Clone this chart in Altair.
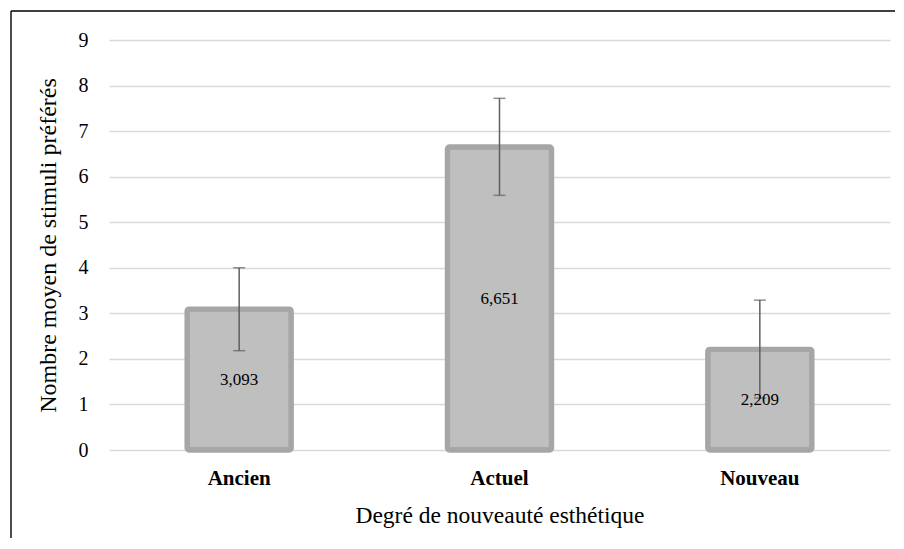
import altair as alt
import pandas as pd

categories = ["Ancien", "Actuel", "Nouveau"]
means = [3.093, 6.651, 2.209]
labels = ["3,093", "6,651", "2,209"]
err_low = [2.18, 5.59, 1.14]
err_high = [4.00, 7.72, 3.29]
y_ticks = list(range(0, 10))

df = pd.DataFrame({
    "cat": categories,
    "mean": means,
    "half": [m / 2 for m in means],
    "label": labels,
    "lo": err_low,
    "hi": err_high,
})

FONT = "Liberation Serif"
W, H = 781, 410

xenc = alt.X("cat:N", sort=categories,
             scale=alt.Scale(paddingInner=0.6, paddingOuter=0.3),
             axis=alt.Axis(title="Degré de nouveauté esthétique", labelAngle=0,
                           labelFontWeight="bold", labelFontSize=21, labelPadding=17,
                           labelColor="black", titleFontSize=23.5, titleFontWeight="normal",
                           titleColor="black", titlePadding=15, domain=False, ticks=False,
                           labelFont=FONT, titleFont=FONT))
yscale = alt.Scale(domain=[0, 9], nice=False)

base = alt.Chart(df)

bars = base.mark_bar(color="#bfbfbf", stroke="#a6a6a6", strokeWidth=5.3,
                     cornerRadius=2, strokeJoin="round").encode(
    x=xenc,
    y=alt.Y("mean:Q", scale=yscale,
            axis=alt.Axis(title="Nombre moyen de stimuli préférés", values=y_ticks,
                          labelFontSize=20, labelColor="black", labelPadding=21,
                          titleFontSize=24, titleFontWeight="normal", titleColor="black",
                          titlePadding=18, domain=False, ticks=False,
                          gridColor="#d9d9d9", gridWidth=1.5,
                          labelFont=FONT, titleFont=FONT)),
)

err = base.mark_rule(color="#5f5f5f", strokeWidth=1.5).encode(
    x=alt.X("cat:N", sort=categories), y=alt.Y("lo:Q", scale=yscale), y2="hi:Q")
cap_lo = base.mark_tick(color="#5f5f5f", size=12, thickness=1.5).encode(
    x=alt.X("cat:N", sort=categories), y=alt.Y("lo:Q", scale=yscale))
cap_hi = base.mark_tick(color="#5f5f5f", size=12, thickness=1.5).encode(
    x=alt.X("cat:N", sort=categories), y=alt.Y("hi:Q", scale=yscale))

text = base.mark_text(font=FONT, fontSize=17, color="black").encode(
    x=alt.X("cat:N", sort=categories), y=alt.Y("half:Q", scale=yscale), text="label:N")

border_left = alt.Chart(pd.DataFrame({"k": [0]})).mark_rule(color="black", strokeWidth=1.4).encode(
    x=alt.value(-98), y=alt.value(-29), y2=alt.value(500))
border_top = alt.Chart(pd.DataFrame({"k": [0]})).mark_rule(color="black", strokeWidth=1.4).encode(
    x=alt.value(-98), x2=alt.value(786), y=alt.value(-29), y2=alt.value(-29))

chart = alt.layer(bars, err, cap_lo, cap_hi, text, border_left, border_top).properties(
    width=W, height=H,
    autosize=alt.AutoSizeParams(type="none"),
    padding={"left": 101, "top": 32, "right": 6, "bottom": 88},
    background="white",
).configure_view(stroke=None)

chart.save("out.html", embed_options={"renderer": "svg", "actions": False})
